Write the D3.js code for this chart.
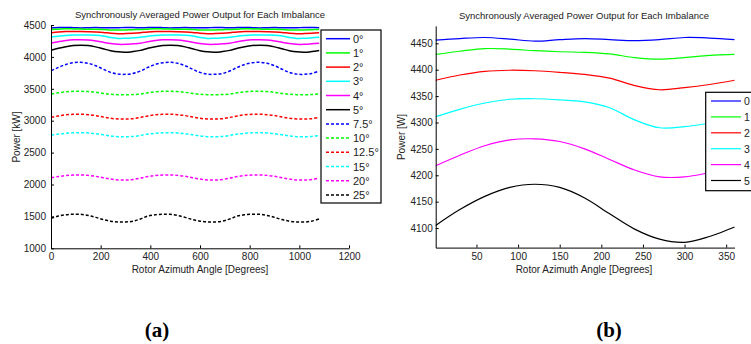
<!DOCTYPE html>
<html>
<head>
<meta charset="utf-8">
<script src="https://cdn.jsdelivr.net/npm/d3@7"></script>
<style>
body { margin: 0; background: #fff; }
svg { display: block; font-family: "Liberation Sans", Arial, sans-serif; }
.axis path, .axis line { stroke: #000; }
.axis text { fill: #222; font-size: 10px; }
</style>
</head>
<body>
<svg id="chart"></svg>
<script>
// azimuth inside one revolution (deg) and synchronously averaged power per imbalance
var azimuth = [1, 30, 60, 90, 120, 150, 180, 210, 240, 270, 300, 330, 360];
var power0 = [4456, 4459, 4461, 4458, 4454, 4457, 4459, 4457, 4455, 4457, 4461, 4460, 4457];
var power1 = [4429, 4435, 4440, 4439, 4436, 4434, 4433, 4430, 4423, 4420, 4423, 4427, 4429];
var power2 = [4380, 4390, 4397, 4399, 4398, 4395, 4391, 4384, 4370, 4362, 4366, 4372, 4380];
var power3 = [4311, 4325, 4337, 4344, 4345, 4343, 4339, 4328, 4305, 4290, 4292, 4299, 4308];
var power4 = [4218, 4238, 4256, 4267, 4269, 4264, 4250, 4230, 4210, 4197, 4197, 4205, 4215];
var power5 = [4105, 4135, 4160, 4177, 4183, 4177, 4157, 4127, 4098, 4079, 4073, 4084, 4102];
var power7_5 = [3784, 3835, 3882, 3908, 3915, 3900, 3862, 3808, 3757, 3730, 3727, 3740, 3778];
var power10 = [3420, 3438, 3452, 3460, 3461, 3456, 3445, 3428, 3414, 3408, 3407, 3410, 3418];
var power12_5 = [3054, 3075, 3092, 3100, 3101, 3095, 3080, 3058, 3038, 3027, 3026, 3032, 3050];
var power15 = [2774, 2790, 2803, 2810, 2812, 2808, 2797, 2780, 2762, 2750, 2748, 2753, 2768];
var power20 = [2106, 2125, 2140, 2148, 2150, 2143, 2128, 2105, 2085, 2072, 2070, 2078, 2100];
var power25 = [1471, 1505, 1525, 1534, 1533, 1515, 1485, 1450, 1425, 1413, 1412, 1425, 1460];

var labelsA = ["0°", "1°", "2°", "3°", "4°", "5°", "7.5°", "10°", "12.5°", "15°", "20°", "25°"];
var labelsB = ["0", "1", "2", "3", "4", "5"];   // only this much fits inside the frame
var colors = ["#0000ff", "#00ff00", "#ff0000", "#00ffff", "#ff00ff", "#000000"];
var revolutions = 3;

var xTicksA = [0, 200, 400, 600, 800, 1000, 1200];
var yTicksA = [1000, 1500, 2000, 2500, 3000, 3500, 4000, 4500];
var xTicksB = [50, 100, 150, 200, 250, 300, 350];
var yTicksB = [4100, 4150, 4200, 4250, 4300, 4350, 4400, 4450];

var titleText = "Synchronously Averaged Power Output for Each Imbalance";
var xLabel = "Rotor Azimuth Angle [Degrees]";

var seriesAll = [power0, power1, power2, power3, power4, power5,
                 power7_5, power10, power12_5, power15, power20, power25];

var width = 751, height = 344;
var fmt = d3.format("d");
var svg = d3.select("#chart").attr("width", width).attr("height", height);
svg.append("rect").attr("width", width).attr("height", height).attr("fill", "#fff");

// ---------- panel (a) ----------
var xA = d3.scaleLinear().domain([0, 1200]).range([51, 349]);
var yA = d3.scaleLinear().domain([1000, 4500]).range([248.3, 25]);

var lineA = d3.line()
  .x(function(d) { return xA(d[0]); })
  .y(function(d) { return yA(d[1]); })
  .curve(d3.curveCatmullRom);

var gA = svg.append("g");
seriesAll.forEach(function(vals, k) {
  var pts = [];
  for (let r = 0; r < revolutions; r++) {
    for (let i = (r == 0 ? 0 : 1); i < azimuth.length; i++) {
      pts.push([azimuth[i] + 360 * r, vals[i]]);
    }
  }
  gA.append("path")
    .attr("d", lineA(pts))
    .attr("fill", "none")
    .attr("stroke", colors[k % 6])
    .attr("stroke-width", 1.5)
    .attr("stroke-dasharray", k >= 6 ? "3,2" : null);
});

gA.append("g").attr("class", "axis")
  .attr("transform", "translate(0,248.3)")
  .call(d3.axisBottom(xA).tickValues(xTicksA).tickFormat(fmt).tickSizeInner(-3).tickSizeOuter(0).tickPadding(5));
gA.append("g").attr("class", "axis")
  .attr("transform", "translate(51,0)")
  .call(d3.axisLeft(yA).tickValues(yTicksA).tickFormat(fmt).tickSizeInner(-3).tickSizeOuter(0).tickPadding(5));

gA.append("text").attr("x", 200).attr("y", 17.5).attr("text-anchor", "middle")
  .attr("font-size", "9.5px").attr("fill", "#222").text(titleText);
gA.append("text").attr("x", 200).attr("y", 272.5).attr("text-anchor", "middle")
  .attr("font-size", "10px").attr("fill", "#222").text(xLabel);
gA.append("text").attr("transform", "translate(20,137) rotate(-90)").attr("text-anchor", "middle")
  .attr("font-size", "10px").attr("fill", "#222").text("Power [kW]");

// legend (a)
var legA = gA.append("g");
legA.append("rect").attr("x", 321).attr("y", 30).attr("width", 60).attr("height", 173)
  .attr("fill", "#fff").attr("stroke", "#000").attr("stroke-width", 1.2);
labelsA.forEach(function(lab, k) {
  var yy = 38.7 + k * 14.2;
  legA.append("line").attr("x1", 326).attr("x2", 350).attr("y1", yy).attr("y2", yy)
    .attr("stroke", colors[k % 6]).attr("stroke-width", 1.5)
    .attr("stroke-dasharray", k >= 6 ? "3,2" : null);
  legA.append("text").attr("x", 353).attr("y", yy + 4).attr("font-size", "11px")
    .attr("fill", "#222").text(lab);
});

// ---------- panel (b) ----------
var xB = d3.scaleLinear().domain([1, 360]).range([435.7, 734.5]);
var yB = d3.scaleLinear().domain([4063, 4483]).range([247.6, 25.9]);

var lineB = d3.line()
  .x(function(d) { return xB(d[0]); })
  .y(function(d) { return yB(d[1]); })
  .curve(d3.curveCatmullRom);

var gB = svg.append("g");
seriesAll.slice(0, 6).forEach(function(vals, k) {
  gB.append("path")
    .attr("d", lineB(azimuth.map(function(a, i) { return [a, vals[i]]; })))
    .attr("fill", "none")
    .attr("stroke", colors[k])
    .attr("stroke-width", 1.2);
});

gB.append("g").attr("class", "axis")
  .attr("transform", "translate(0,247.6)")
  .call(d3.axisBottom(xB).tickValues(xTicksB).tickFormat(fmt).tickSizeInner(-3).tickSizeOuter(0).tickPadding(5));
gB.append("g").attr("class", "axis")
  .attr("transform", "translate(435.7,0)")
  .call(d3.axisLeft(yB).tickValues(yTicksB).tickFormat(fmt).tickSizeInner(-3).tickSizeOuter(0).tickPadding(3));

gB.append("text").attr("x", 584).attr("y", 19).attr("text-anchor", "middle")
  .attr("font-size", "9.5px").attr("fill", "#222").text(titleText);
gB.append("text").attr("x", 584).attr("y", 272.5).attr("text-anchor", "middle")
  .attr("font-size", "10px").attr("fill", "#222").text(xLabel);
gB.append("text").attr("transform", "translate(405,137) rotate(-90)").attr("text-anchor", "middle")
  .attr("font-size", "10px").attr("fill", "#222").text("Power [W]");

// legend (b), its right side runs off the page as in the source figure
var legB = gB.append("g");
legB.append("rect").attr("x", 705.7).attr("y", 92.3).attr("width", 60).attr("height", 98.4)
  .attr("fill", "#fff").attr("stroke", "#000").attr("stroke-width", 1.2);
labelsB.forEach(function(lab, k) {
  var yy = 101 + k * 15.9;
  legB.append("line").attr("x1", 711).attr("x2", 741).attr("y1", yy).attr("y2", yy)
    .attr("stroke", colors[k]).attr("stroke-width", 1.2);
  legB.append("text").attr("x", 744).attr("y", yy + 4).attr("font-size", "10.5px")
    .attr("fill", "#222").text(lab);
});

// sub-figure captions
svg.append("text").attr("x", 157).attr("y", 337).attr("text-anchor", "middle")
  .attr("font-family", "'Liberation Serif', 'Times New Roman', serif")
  .attr("font-weight", "bold").attr("font-size", "21px").text("(a)");
svg.append("text").attr("x", 609).attr("y", 337).attr("text-anchor", "middle")
  .attr("font-family", "'Liberation Serif', 'Times New Roman', serif")
  .attr("font-weight", "bold").attr("font-size", "21px").text("(b)");
</script>
</body>
</html>
